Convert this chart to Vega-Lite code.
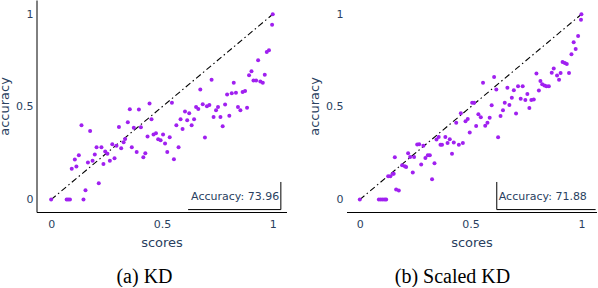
{
  "$schema": "https://vega.github.io/schema/vega-lite/v6.json",
  "padding": {"left": -2.5, "top": 0, "right": 0, "bottom": 0},
  "spacing": 60,
  "bounds": "flush",
  "config": {"view": {"stroke": null}},
  "datasets": {
    "diag": [{"s": 0, "a": 0}, {"s": 1, "a": 1}],
    "kd": [
      {"s":0,"a":0},{"s":0.07,"a":0},{"s":0.077,"a":0},{"s":0.085,"a":0},{"s":0.146,"a":0},{"s":0.155,"a":0.05},{"s":0.215,"a":0.088},{"s":0.093,"a":0.167},{"s":0.114,"a":0.178},{"s":0.107,"a":0.216},{"s":0.125,"a":0.239},{"s":0.137,"a":0.401},{"s":0.176,"a":0.37},{"s":0.166,"a":0.2},{"s":0.187,"a":0.21},{"s":0.197,"a":0.243},{"s":0.205,"a":0.282},{"s":0.227,"a":0.282},{"s":0.236,"a":0.192},{"s":0.244,"a":0.26},{"s":0.254,"a":0.248},{"s":0.265,"a":0.21},{"s":0.276,"a":0.299},{"s":0.286,"a":0.223},{"s":0.295,"a":0.29},{"s":0.306,"a":0.392},{"s":0.316,"a":0.277},{"s":0.327,"a":0.309},{"s":0.334,"a":0.327},{"s":0.346,"a":0.417},{"s":0.355,"a":0.487},{"s":0.364,"a":0.282},{"s":0.373,"a":0.387},{"s":0.386,"a":0.257},{"s":0.396,"a":0.486},{"s":0.405,"a":0.39},{"s":0.416,"a":0.228},{"s":0.425,"a":0.25},{"s":0.435,"a":0.341},{"s":0.444,"a":0.518},{"s":0.453,"a":0.433},{"s":0.462,"a":0.351},{"s":0.473,"a":0.358},{"s":0.483,"a":0.326},{"s":0.494,"a":0.32},{"s":0.505,"a":0.351},{"s":0.514,"a":0.302},{"s":0.524,"a":0.257},{"s":0.535,"a":0.336},{"s":0.545,"a":0.523},{"s":0.554,"a":0.218},{"s":0.565,"a":0.401},{"s":0.575,"a":0.282},{"s":0.584,"a":0.433},{"s":0.593,"a":0.381},{"s":0.604,"a":0.475},{"s":0.614,"a":0.428},{"s":0.623,"a":0.466},{"s":0.634,"a":0.401},{"s":0.645,"a":0.433},{"s":0.654,"a":0.5},{"s":0.664,"a":0.489},{"s":0.673,"a":0.594},{"s":0.684,"a":0.514},{"s":0.694,"a":0.335},{"s":0.703,"a":0.504},{"s":0.714,"a":0.511},{"s":0.724,"a":0.647},{"s":0.733,"a":0.446},{"s":0.744,"a":0.482},{"s":0.753,"a":0.5},{"s":0.764,"a":0.446},{"s":0.774,"a":0.396},{"s":0.785,"a":0.513},{"s":0.794,"a":0.567},{"s":0.804,"a":0.453},{"s":0.815,"a":0.574},{"s":0.824,"a":0.63},{"s":0.834,"a":0.577},{"s":0.843,"a":0.5},{"s":0.854,"a":0.482},{"s":0.864,"a":0.581},{"s":0.875,"a":0.586},{"s":0.884,"a":0.496},{"s":0.893,"a":0.671},{"s":0.904,"a":0.692},{"s":0.913,"a":0.642},{"s":0.925,"a":0.642},{"s":0.934,"a":0.752},{"s":0.944,"a":0.637},{"s":0.955,"a":0.63},{"s":0.964,"a":0.674},{"s":0.973,"a":0.797},{"s":0.983,"a":0.806},{"s":0.997,"a":0.944},{"s":1.0,"a":1.0}
    ],
    "skd": [
      {"s":0,"a":0},{"s":0.086,"a":0},{"s":0.095,"a":0},{"s":0.104,"a":0},{"s":0.113,"a":0},{"s":0.119,"a":0},{"s":0.164,"a":0.054},{"s":0.176,"a":0.049},{"s":0.128,"a":0.126},{"s":0.138,"a":0.126},{"s":0.149,"a":0.14},{"s":0.153,"a":0.14},{"s":0.158,"a":0.228},{"s":0.191,"a":0.185},{"s":0.203,"a":0.18},{"s":0.209,"a":0.176},{"s":0.218,"a":0.25},{"s":0.227,"a":0.23},{"s":0.245,"a":0.23},{"s":0.239,"a":0.146},{"s":0.259,"a":0.297},{"s":0.268,"a":0.299},{"s":0.277,"a":0.189},{"s":0.287,"a":0.29},{"s":0.296,"a":0.225},{"s":0.307,"a":0.239},{"s":0.316,"a":0.239},{"s":0.326,"a":0.11},{"s":0.337,"a":0.196},{"s":0.346,"a":0.324},{"s":0.356,"a":0.338},{"s":0.364,"a":0.296},{"s":0.371,"a":0.296},{"s":0.386,"a":0.338},{"s":0.396,"a":0.306},{"s":0.406,"a":0.326},{"s":0.416,"a":0.248},{"s":0.424,"a":0.308},{"s":0.435,"a":0.414},{"s":0.447,"a":0.296},{"s":0.465,"a":0.305},{"s":0.456,"a":0.466},{"s":0.477,"a":0.423},{"s":0.487,"a":0.435},{"s":0.496,"a":0.362},{"s":0.507,"a":0.523},{"s":0.516,"a":0.523},{"s":0.525,"a":0.397},{"s":0.535,"a":0.46},{"s":0.546,"a":0.444},{"s":0.556,"a":0.631},{"s":0.566,"a":0.399},{"s":0.576,"a":0.414},{"s":0.586,"a":0.442},{"s":0.595,"a":0.509},{"s":0.606,"a":0.662},{"s":0.616,"a":0.594},{"s":0.624,"a":0.336},{"s":0.635,"a":0.451},{"s":0.646,"a":0.482},{"s":0.654,"a":0.522},{"s":0.666,"a":0.603},{"s":0.675,"a":0.511},{"s":0.686,"a":0.549},{"s":0.695,"a":0.59},{"s":0.705,"a":0.464},{"s":0.714,"a":0.612},{"s":0.735,"a":0.612},{"s":0.726,"a":0.544},{"s":0.747,"a":0.538},{"s":0.756,"a":0.57},{"s":0.765,"a":0.494},{"s":0.774,"a":0.538},{"s":0.785,"a":0.54},{"s":0.797,"a":0.681},{"s":0.808,"a":0.589},{"s":0.815,"a":0.64},{"s":0.823,"a":0.622},{"s":0.833,"a":0.615},{"s":0.842,"a":0.612},{"s":0.853,"a":0.612},{"s":0.866,"a":0.685},{"s":0.875,"a":0.707},{"s":0.89,"a":0.669},{"s":0.899,"a":0.647},{"s":0.906,"a":0.683},{"s":0.915,"a":0.743},{"s":0.925,"a":0.737},{"s":0.934,"a":0.732},{"s":0.944,"a":0.683},{"s":0.955,"a":0.784},{"s":0.965,"a":0.849},{"s":0.974,"a":0.813},{"s":0.985,"a":0.883},{"s":0.998,"a":0.971},{"s":1.0,"a":1.0}
    ],
    "boxA": [{"x":1.0365,"x2":1.0365,"y":-0.054,"y2":0.095},{"x":0.618,"x2":1.0365,"y":-0.054,"y2":-0.054}],
    "boxB": [{"x":0.618,"x2":0.618,"y":-0.054,"y2":0.095},{"x":0.618,"x2":1.064,"y":-0.054,"y2":-0.054}],
    "labA": [{"label":"Accuracy: 73.96","x":1.029,"y":-0.004}],
    "labB": [{"label":"Accuracy: 71.88","x":0.627,"y":-0.004}]
  },
  "hconcat": [
    {
      "width": 250,
      "height": 212,
      "title": {"text": "(a) KD", "orient": "bottom", "anchor": "middle", "font": "Liberation Serif", "fontSize": 20, "fontWeight": "normal", "color": "black", "offset": 17, "dx": -17},
      "layer": [
        {
          "data": {"name": "diag"},
          "mark": {"type": "line", "color": "black", "strokeWidth": 1.1, "strokeDash": [6, 3, 1.5, 3]},
          "encoding": {
            "x": {"field": "s", "type": "quantitative", "scale": {"domain": [-0.066, 1.062], "nice": false, "zero": false},
              "axis": {"values": [0, 0.5, 1], "format": "~g", "grid": false, "ticks": false, "tickSize": 0, "domain": true, "domainColor": "black", "domainWidth": 1, "labelFont": "DejaVu Sans", "labelFontSize": 11, "labelColor": "#2a3f5f", "labelPadding": 6, "labelFlush": false, "labelOverlap": false, "title": "scores", "titleFont": "DejaVu Sans", "titleFontSize": 13, "titleFontWeight": "normal", "titleColor": "#2a3f5f", "titleBaseline": "alphabetic", "titleY": 34.5}},
            "y": {"field": "a", "type": "quantitative", "scale": {"domain": [-0.067, 1.077], "nice": false, "zero": false},
              "axis": {"values": [0, 0.5, 1], "format": "~g", "grid": false, "ticks": false, "tickSize": 0, "domain": true, "domainColor": "black", "domainWidth": 1, "labelFont": "DejaVu Sans", "labelFontSize": 11, "labelColor": "#2a3f5f", "labelPadding": 3.5, "labelFlush": false, "labelOverlap": false, "title": "accuracy", "titleFont": "DejaVu Sans", "titleFontSize": 13, "titleFontWeight": "normal", "titleColor": "#2a3f5f", "titleBaseline": "alphabetic", "titleX": -28.5, "titleY": 106}}
          }
        },
        {
          "data": {"name": "kd"},
          "mark": {"type": "circle", "size": 16, "color": "#a020f0", "opacity": 1},
          "encoding": {"x": {"field": "s", "type": "quantitative"}, "y": {"field": "a", "type": "quantitative"}}
        },
        {
          "data": {"name": "boxA"},
          "mark": {"type": "rule", "color": "black", "strokeWidth": 1},
          "encoding": {"x": {"field": "x", "type": "quantitative"}, "x2": {"field": "x2"}, "y": {"field": "y", "type": "quantitative"}, "y2": {"field": "y2"}}
        },
        {
          "data": {"name": "labA"},
          "mark": {"type": "text", "align": "right", "baseline": "alphabetic", "font": "DejaVu Sans", "fontSize": 11, "color": "#2a3f5f"},
          "encoding": {"x": {"field": "x", "type": "quantitative"}, "y": {"field": "y", "type": "quantitative"}, "text": {"field": "label"}}
        }
      ]
    },
    {
      "width": 250,
      "height": 212,
      "title": {"text": "(b) Scaled KD", "orient": "bottom", "anchor": "middle", "font": "Liberation Serif", "fontSize": 20, "fontWeight": "normal", "color": "black", "offset": 17, "dx": -19},
      "layer": [
        {
          "data": {"name": "diag"},
          "mark": {"type": "line", "color": "black", "strokeWidth": 1.1, "strokeDash": [6, 3, 1.5, 3]},
          "encoding": {
            "x": {"field": "s", "type": "quantitative", "scale": {"domain": [-0.06, 1.068], "nice": false, "zero": false},
              "axis": {"values": [0, 0.5, 1], "format": "~g", "grid": false, "ticks": false, "tickSize": 0, "domain": true, "domainColor": "black", "domainWidth": 1, "labelFont": "DejaVu Sans", "labelFontSize": 11, "labelColor": "#2a3f5f", "labelPadding": 6, "labelFlush": false, "labelOverlap": false, "title": "scores", "titleFont": "DejaVu Sans", "titleFontSize": 13, "titleFontWeight": "normal", "titleColor": "#2a3f5f", "titleBaseline": "alphabetic", "titleY": 34.5}},
            "y": {"field": "a", "type": "quantitative", "scale": {"domain": [-0.067, 1.077], "nice": false, "zero": false},
              "axis": {"values": [0, 0.5, 1], "format": "~g", "grid": false, "ticks": false, "tickSize": 0, "domain": false, "labelFont": "DejaVu Sans", "labelFontSize": 11, "labelColor": "#2a3f5f", "labelPadding": 3.5, "labelFlush": false, "labelOverlap": false, "title": "accuracy", "titleFont": "DejaVu Sans", "titleFontSize": 13, "titleFontWeight": "normal", "titleColor": "#2a3f5f", "titleBaseline": "alphabetic", "titleX": -28.5, "titleY": 106}}
          }
        },
        {
          "data": {"name": "skd"},
          "mark": {"type": "circle", "size": 16, "color": "#a020f0", "opacity": 1},
          "encoding": {"x": {"field": "s", "type": "quantitative"}, "y": {"field": "a", "type": "quantitative"}}
        },
        {
          "data": {"name": "boxB"},
          "mark": {"type": "rule", "color": "black", "strokeWidth": 1},
          "encoding": {"x": {"field": "x", "type": "quantitative"}, "x2": {"field": "x2"}, "y": {"field": "y", "type": "quantitative"}, "y2": {"field": "y2"}}
        },
        {
          "data": {"name": "labB"},
          "mark": {"type": "text", "align": "left", "baseline": "alphabetic", "font": "DejaVu Sans", "fontSize": 11, "color": "#2a3f5f"},
          "encoding": {"x": {"field": "x", "type": "quantitative"}, "y": {"field": "y", "type": "quantitative"}, "text": {"field": "label"}}
        }
      ]
    }
  ]
}
